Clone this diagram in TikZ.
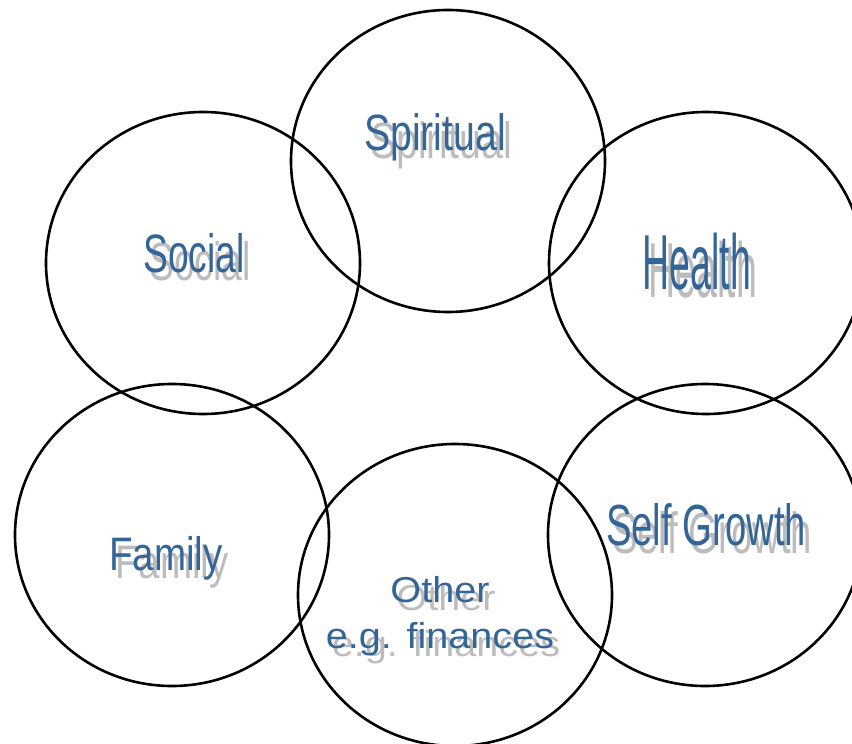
\documentclass[tikz,border=0pt]{standalone}
\usepackage{fontspec}
\setmainfont{Liberation Sans}
\usepackage{graphicx}

\definecolor{labelblue}{RGB}{52,101,153}
\definecolor{labelshadow}{RGB}{188,188,188}

\tikzset{
  ring/.style={draw=black, line width=2.6pt},
  label text/.style={anchor=base, inner sep=0pt, text=labelblue, align=center},
  label shadow/.style={anchor=base, inner sep=0pt, text=labelshadow, align=center}
}

% name, x, y (baseline), font size, horizontal squeeze, text
\newcommand{\ringlabel}[6]{%
  \node[label shadow, font=\fontsize{#4}{46}\selectfont, xscale=#5] (#1-shadow) at (#2+6,#3+8) {#6};
  \node[label text, font=\fontsize{#4}{46}\selectfont, xscale=#5] (#1) at (#2,#3) {#6};
}

\begin{document}
\begin{tikzpicture}[x=1pt,y=-1pt]
    \useasboundingbox (0,0) rectangle (852,744);

    % Six overlapping rings
    \draw[ring] (448,161) ellipse (157 and 151); % spiritual
    \draw[ring] (203,263) ellipse (157 and 151); % social
    \draw[ring] (706,263) ellipse (157 and 151); % health
    \draw[ring] (172,535) ellipse (157 and 151); % family
    \draw[ring] (705,535) ellipse (157 and 151); % self growth
    \draw[ring] (455,595) ellipse (157 and 151); % other

    % Labels with a gray drop shadow behind them
    \ringlabel{spiritual}{435}{150}{51}{0.77}{Spiritual}
    \ringlabel{social}{194}{272}{54}{0.69}{Social}
    \ringlabel{health}{697}{289}{78}{0.48}{Health}
    \ringlabel{family}{166}{570}{47}{0.82}{Family}
    \ringlabel{selfgrowth}{706}{545}{58}{0.66}{Self Growth}
    \ringlabel{other}{440}{648}{36}{1.1}{Other\\e.g. finances}
\end{tikzpicture}
\end{document}
